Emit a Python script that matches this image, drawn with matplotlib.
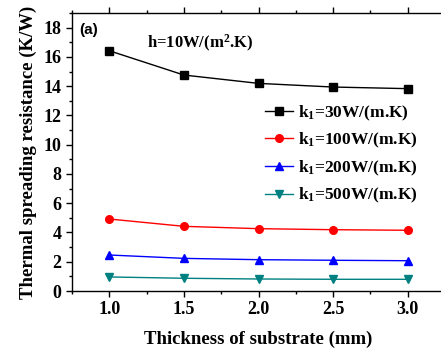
import numpy as np
import matplotlib
matplotlib.use("Agg")
import matplotlib.pyplot as plt
from matplotlib.ticker import MultipleLocator

# data
thickness = [1.0, 1.5, 2.0, 2.5, 3.0]
r_k30 = [16.42, 14.76, 14.19, 13.94, 13.83]
r_k100 = [4.92, 4.42, 4.26, 4.19, 4.15]
r_k200 = [2.46, 2.23, 2.14, 2.10, 2.07]
r_k500 = [0.96, 0.87, 0.82, 0.80, 0.80]
labels = ['k$_\\mathbf{1}$=30W/(m.K)', 'k$_\\mathbf{1}$=100W/(m.K)',
          'k$_\\mathbf{1}$=200W/(m.K)', 'k$_\\mathbf{1}$=500W/(m.K)']

plt.rcParams['font.family'] = 'Liberation Serif'
plt.rcParams['font.weight'] = 'bold'
plt.rcParams['mathtext.fontset'] = 'custom'
plt.rcParams['mathtext.rm'] = 'Liberation Serif:bold'
plt.rcParams['mathtext.bf'] = 'Liberation Serif:bold'
plt.rcParams['mathtext.it'] = 'Liberation Serif:bold'

fig = plt.figure(figsize=(4.41, 3.52), dpi=100)
W, H = 441, 352
ax = fig.add_axes([72 / W, 1 - 291 / H, (445 - 72) / W, (291 - 13) / H])

series = [(r_k30, 'black', 's'), (r_k100, 'red', 'o'),
          (r_k200, 'blue', '^'), (r_k500, '#008080', 'v')]
for (vals, col, mk), lab in zip(series, labels):
    ax.plot(thickness, vals, color=col, marker=mk, markersize=5.5, linewidth=1.0, label=lab)

ax.set_xlim(0.75, 3.25)
ax.set_ylim(0, 19)
ax.xaxis.set_minor_locator(MultipleLocator(0.25))
ax.yaxis.set_major_locator(MultipleLocator(2))
ax.yaxis.set_minor_locator(MultipleLocator(1))
ax.set_xticks(thickness)
ax.set_xticklabels(['1.0', '1.5', '2.0', '2.5', '3.0'])
ax.tick_params(which='major', direction='out', length=4, width=1, labelsize=13, top=True)
ax.tick_params(which='minor', direction='out', length=2.5, width=1, top=True)
ax.tick_params(axis='x', pad=3)
for s in ax.spines.values():
    s.set_linewidth(1)

ax.set_xlabel('Thickness of substrate (mm)', fontsize=13.5, fontweight='bold', labelpad=9)
ax.set_ylabel('Thermal spreading resistance (K/W)', fontsize=13.5, fontweight='bold', labelpad=5)

ax.text(0.02, 0.94, '(a)', transform=ax.transAxes, fontsize=11, fontweight='bold',
        family='Liberation Sans', va='center')
ax.text(0.20, 0.89, 'h=10W/(m$^\\mathbf{2}$.K)', transform=ax.transAxes, fontsize=12,
        fontweight='bold', va='center')

ax.legend(loc='upper left', bbox_to_anchor=(0.517, 0.675), frameon=False, fontsize=12.5,
          handlelength=1.6, handletextpad=0.3, labelspacing=0.48, borderaxespad=0,
          borderpad=0)

fig.savefig('out.png', dpi=100)
